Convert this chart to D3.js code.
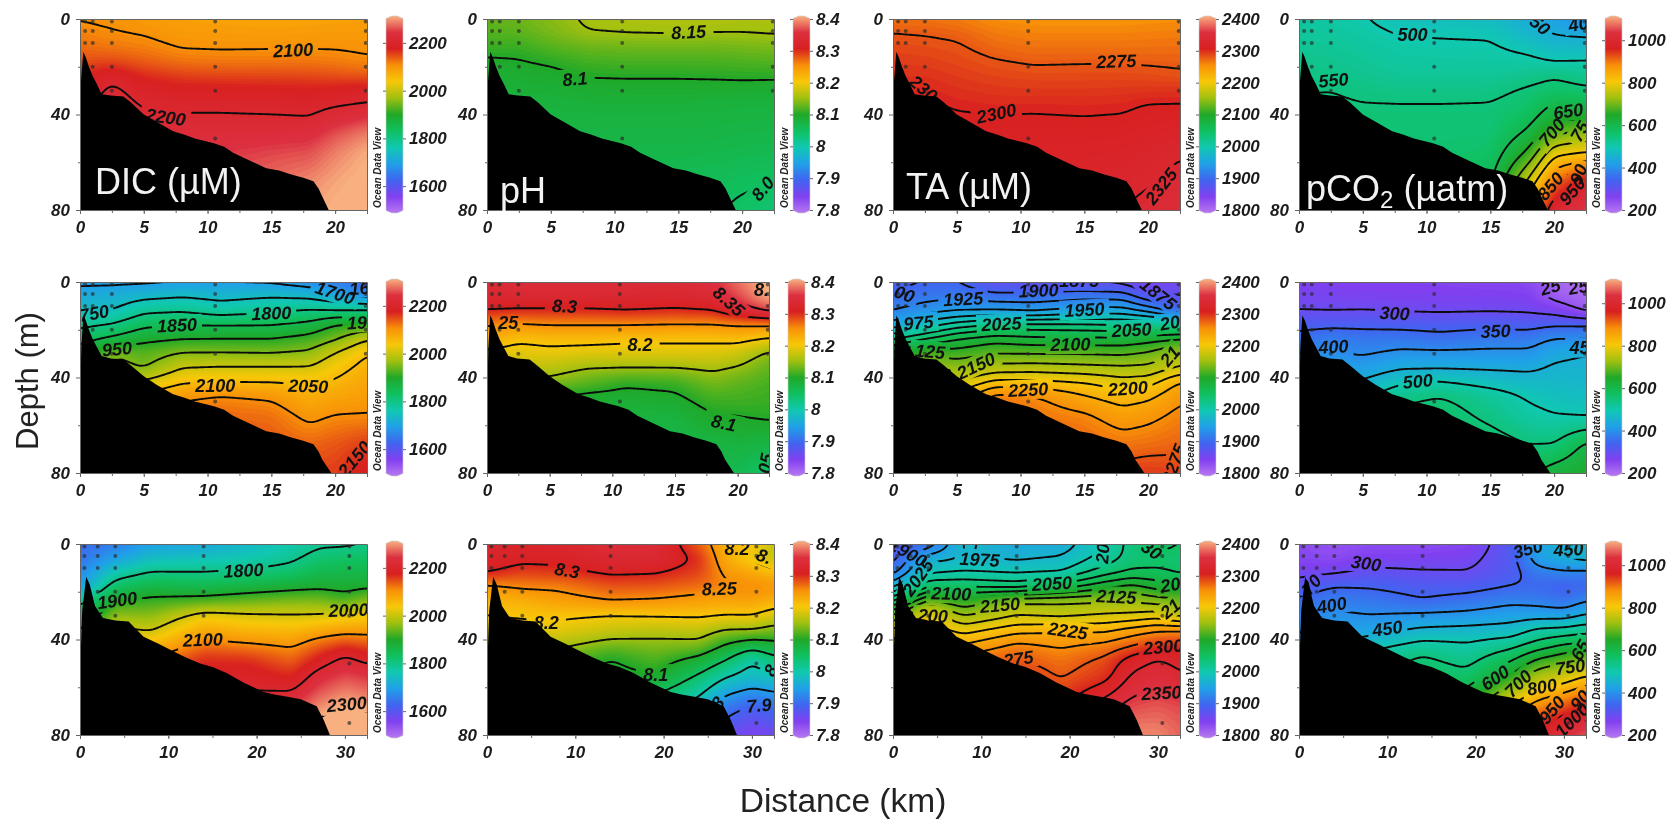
<!DOCTYPE html>
<html lang="en">
<head>
	<meta charset="utf-8">
	<title>Carbonate sections</title>
	<style type="text/css">
		html, body { margin: 0; background: #fff; }
		svg { display: block; filter: blur(0.6px); }
		text { font-family: "Liberation Sans", Arial, sans-serif; }
		.tick text, .clabel, .odv { font-weight: bold; font-style: italic; }
		.tick text { font-size: 17px; fill: #1c1c1c; }
		.tick line, .domain { stroke: #666; }
	</style>
</head>
<body>
	<svg id="chart" width="1668" height="819"></svg>

	<script src="https://cdnjs.cloudflare.com/ajax/libs/d3/7.8.5/d3.min.js"></script>
	<script type="text/javascript">
		// grid nodes, every grid below is a list of depth profiles, one per distance
		var depths = [0, 6, 12, 18, 24, 30, 36, 42, 48, 56, 68, 80];
		var kmShort = [0, 2.5, 5, 8, 11, 15, 18, 20, 22.5];
		var kmLong = [0, 4, 8, 14, 19, 24, 27, 30, 32.5];

		// colour bar stops, bottom to top
		var palette = ["#b878f0", "#8040f0", "#4064f0", "#20a0e8", "#10c8b0", "#10c060", "#20a828",
			"#a0c010", "#f8c808", "#f89008", "#d82020", "#dc3040", "#f8b080"];

		var dicRange = [1500, 2300], phRange = [7.8, 8.4], taRange = [1800, 2400], co2Range = [200, 1100];
		var dicTicks = [1600, 1800, 2000, 2200];
		var phTicks = [7.8, 7.9, 8, 8.1, 8.2, 8.3, 8.4];
		var taTicks = [1800, 1900, 2000, 2100, 2200, 2300, 2400];
		var co2Ticks = [200, 400, 600, 800, 1000];
		var shortTicks = [0, 5, 10, 15, 20];
		var longTicks = [0, 10, 20, 30];
		var depthTicks = [0, 40, 80];

		// bottom profiles: distance, depth
		var shelfTop = [[0, 80], [0, 40], [0.08, 26], [0.26, 13.7], [0.45, 16], [0.7, 20], [1, 24], [1.3, 27], [1.7, 31.5], [2.4, 32], [3.4, 32.5], [4, 35], [5, 40], [6, 43], [7.3, 47], [8.2, 48.5], [9, 50], [10.5, 52], [11.3, 53.5], [12, 56], [13, 58.5], [14.6, 62.5], [15.6, 63.5], [16.5, 65], [17.5, 66.5], [18.3, 68], [18.7, 71], [19, 74.4], [19.5, 80]];
		var shelfMid = [[0, 80], [0, 60], [0.1, 28], [0.26, 14], [0.45, 16], [0.7, 20], [1, 24], [1.3, 27], [1.7, 31], [2.4, 32], [3.4, 32.5], [4, 35], [5, 39.5], [6, 43], [7.3, 47], [8.2, 48.5], [9, 50], [10.5, 52], [11.3, 53.5], [12, 56], [13, 58.5], [14.6, 62.5], [15.6, 63.5], [16.5, 65], [17.5, 66.5], [18.3, 68], [18.7, 71], [19, 74.4], [19.7, 80]];
		var shelfLow = [[0, 80], [0, 55], [0.25, 28], [0.7, 13.7], [1.1, 17], [1.7, 26], [2.6, 31], [4, 32], [5.5, 32.5], [7.2, 38.8], [9, 42], [10.6, 45], [12, 47.5], [13.6, 50], [15, 51.5], [16.6, 54], [18.5, 58], [20.8, 62], [22, 63], [23.5, 64], [25, 65], [26.8, 68], [27.6, 73.7], [28.3, 80]];

		// sample stations: distance, depth
		var stationsShort = [[0.4, 1], [1, 1], [2.5, 1], [10.6, 1], [0.4, 5], [1, 5], [2.5, 5], [10.6, 5], [0.4, 10], [1, 10], [2.5, 10], [10.6, 10], [1, 20], [2.5, 20], [10.6, 20], [2.5, 30], [10.6, 30], [10.6, 50], [22.4, 1], [22.4, 5], [22.4, 10], [22.4, 20], [22.4, 30]];
		var stationsLong = [[0.5, 1], [2, 1], [4, 1], [14, 1], [30.5, 1], [0.5, 5], [2, 5], [4, 5], [14, 5], [30.5, 5], [0.5, 10], [2, 10], [4, 10], [14, 10], [30.5, 10], [2, 20], [4, 20], [14, 20], [30.5, 20], [4, 30], [14, 30], [30.5, 30], [30.5, 50], [30.5, 75]];

		// top row
		var dicA = [
			[2098, 2108, 2122, 2140, 2160, 2175, 2190, 2205, 2225, 2240, 2260, 2270],
			[2095, 2102, 2115, 2145, 2190, 2210, 2215, 2225, 2235, 2245, 2260, 2270],
			[2088, 2098, 2110, 2132, 2162, 2185, 2198, 2205, 2220, 2235, 2255, 2270],
			[2080, 2088, 2098, 2118, 2150, 2175, 2194, 2205, 2218, 2235, 2255, 2270],
			[2078, 2086, 2097, 2115, 2146, 2175, 2194, 2205, 2220, 2235, 2255, 2270],
			[2075, 2085, 2098, 2115, 2146, 2172, 2192, 2204, 2222, 2245, 2265, 2280],
			[2077, 2086, 2098, 2115, 2145, 2170, 2190, 2202, 2225, 2250, 2280, 2295],
			[2078, 2087, 2098, 2112, 2140, 2175, 2197, 2220, 2250, 2275, 2295, 2305],
			[2080, 2088, 2095, 2105, 2135, 2185, 2202, 2240, 2275, 2300, 2310, 2315]];
		var dicALevels = [2100, 2200];
		var dicALabels = [["2100", 16.7, 13, -3], ["2200", 6.7, 41, 8]];

		var phA = [
			[8.125, 8.12, 8.11, 8.095, 8.085, 8.08, 8.08, 8.078, 8.075, 8.07, 8.06, 8.055],
			[8.13, 8.122, 8.108, 8.098, 8.09, 8.085, 8.08, 8.078, 8.075, 8.07, 8.06, 8.055],
			[8.14, 8.135, 8.12, 8.103, 8.093, 8.085, 8.08, 8.078, 8.075, 8.07, 8.06, 8.055],
			[8.155, 8.149, 8.128, 8.113, 8.101, 8.09, 8.083, 8.078, 8.075, 8.07, 8.06, 8.055],
			[8.158, 8.151, 8.13, 8.115, 8.102, 8.09, 8.083, 8.078, 8.075, 8.07, 8.06, 8.055],
			[8.16, 8.152, 8.13, 8.115, 8.102, 8.09, 8.083, 8.078, 8.075, 8.07, 8.06, 8.055],
			[8.16, 8.15, 8.13, 8.115, 8.103, 8.09, 8.081, 8.078, 8.074, 8.068, 8.058, 8.052],
			[8.158, 8.15, 8.133, 8.117, 8.104, 8.09, 8.08, 8.077, 8.072, 8.066, 8.054, 8.045],
			[8.158, 8.152, 8.135, 8.12, 8.103, 8.09, 8.08, 8.076, 8.07, 8.064, 8.05, 8.04]];
		var phALevels = [8.05, 8.1, 8.15];
		var phALabels = [["8.15", 15.8, 5.4, -3], ["8.1", 6.9, 25, -5], ["8.0", 21.6, 71, -50]];

		var taA = [
			[2262, 2276, 2282, 2288, 2292, 2296, 2300, 2304, 2308, 2312, 2316, 2320],
			[2262, 2274, 2281, 2286, 2292, 2298, 2303, 2306, 2310, 2312, 2316, 2320],
			[2258, 2271, 2278, 2283, 2288, 2293, 2298, 2303, 2306, 2310, 2316, 2320],
			[2250, 2260, 2268, 2277, 2284, 2290, 2296, 2302, 2305, 2310, 2316, 2320],
			[2248, 2256, 2264, 2273, 2282, 2289, 2297, 2302, 2306, 2311, 2316, 2320],
			[2248, 2256, 2264, 2274, 2282, 2289, 2296, 2301, 2306, 2311, 2317, 2322],
			[2248, 2256, 2264, 2274, 2282, 2290, 2297, 2302, 2307, 2313, 2319, 2325],
			[2249, 2257, 2264, 2273, 2281, 2291, 2301, 2306, 2311, 2317, 2323, 2331],
			[2250, 2258, 2265, 2272, 2278, 2292, 2301, 2308, 2315, 2323, 2331, 2338]];
		var taALevels = [2275, 2300, 2325];
		var taALabels = [["2275", 17.5, 17.6, -2], ["2300", 8.1, 39.5, -12], ["230", 2.4, 29, 40], ["2325", 21, 70, -52]];

		var co2A = [
			[515, 522, 528, 535, 542, 548, 555, 560, 562, 565, 570, 575],
			[510, 518, 525, 532, 540, 550, 556, 560, 562, 565, 570, 575],
			[502, 510, 518, 525, 532, 542, 552, 558, 562, 565, 570, 575],
			[485, 498, 508, 515, 525, 538, 552, 556, 560, 565, 570, 575],
			[480, 497, 506, 514, 524, 538, 552, 556, 558, 562, 570, 575],
			[475, 495, 505, 514, 524, 540, 553, 555, 558, 570, 590, 610],
			[445, 462, 490, 510, 535, 557, 565, 585, 610, 660, 760, 850],
			[430, 448, 470, 500, 548, 567, 605, 640, 690, 785, 900, 990],
			[395, 443, 470, 504, 532, 558, 605, 650, 720, 800, 975, 1040]];
		var co2ALevels = [400, 450, 500, 550, 600, 650, 700, 750, 800, 850, 900, 950];
		var co2ALabels = [["500", 8.9, 6.4, 0], ["550", 2.7, 25.5, -5], ["650", 21.1, 38.5, -8], ["700", 19.8, 47.5, -50], ["75", 22, 47, -60], ["850", 19.7, 70, -50], ["90", 21.9, 65, -70], ["950", 21.4, 72, -50], ["50", 18.9, 2.5, 40], ["40", 21.9, 2, -10]];

		// middle row
		var dicB = [
			[1690, 1720, 1745, 1790, 1830, 1880, 1920, 1960, 2000, 2040, 2080, 2120],
			[1690, 1725, 1748, 1805, 1860, 1950, 1970, 2000, 2040, 2070, 2100, 2130],
			[1690, 1738, 1790, 1840, 1890, 1930, 1945, 2010, 2060, 2090, 2120, 2140],
			[1695, 1748, 1795, 1850, 1900, 1955, 2000, 2045, 2095, 2115, 2130, 2150],
			[1695, 1738, 1775, 1850, 1902, 1955, 2005, 2050, 2105, 2125, 2135, 2150],
			[1690, 1748, 1790, 1850, 1902, 1952, 2005, 2050, 2095, 2120, 2135, 2150],
			[1675, 1740, 1805, 1865, 1920, 1960, 2005, 2045, 2065, 2090, 2125, 2150],
			[1660, 1715, 1800, 1905, 1945, 2005, 2035, 2055, 2075, 2102, 2135, 2150],
			[1630, 1685, 1805, 1915, 2000, 2050, 2065, 2075, 2085, 2102, 2152, 2175]];
		var dicBLevels = [1700, 1750, 1800, 1850, 1900, 1950, 2000, 2050, 2100, 2150];
		var dicBLabels = [["1700", 20, 4.5, 18], ["16", 21.9, 2.5, -5], ["750", 1.1, 13, -10], ["1800", 15, 13, -2], ["1850", 7.6, 18, -3], ["19", 21.7, 17, -3], ["950", 2.9, 28, -5], ["2100", 10.6, 43.5, 0], ["2050", 17.9, 43.5, 2], ["2150", 21.5, 74, -50]];

		var phB = [
			[8.33, 8.325, 8.30, 8.25, 8.225, 8.19, 8.16, 8.13, 8.10, 8.08, 8.07, 8.06],
			[8.335, 8.33, 8.295, 8.245, 8.205, 8.185, 8.17, 8.14, 8.10, 8.08, 8.07, 8.06],
			[8.335, 8.33, 8.295, 8.25, 8.21, 8.19, 8.165, 8.14, 8.10, 8.08, 8.07, 8.06],
			[8.335, 8.33, 8.295, 8.25, 8.21, 8.185, 8.15, 8.125, 8.09, 8.08, 8.07, 8.06],
			[8.335, 8.33, 8.30, 8.25, 8.205, 8.185, 8.15, 8.105, 8.09, 8.08, 8.07, 8.06],
			[8.335, 8.325, 8.295, 8.247, 8.205, 8.185, 8.15, 8.11, 8.095, 8.08, 8.07, 8.065],
			[8.345, 8.335, 8.30, 8.247, 8.205, 8.185, 8.155, 8.135, 8.115, 8.098, 8.075, 8.065],
			[8.375, 8.36, 8.33, 8.25, 8.21, 8.175, 8.146, 8.125, 8.115, 8.10, 8.08, 8.065],
			[8.41, 8.40, 8.36, 8.25, 8.195, 8.14, 8.125, 8.115, 8.11, 8.105, 8.075, 8.04]];
		var phBLevels = [8.05, 8.1, 8.15, 8.2, 8.25, 8.3, 8.35, 8.4];
		var phBLabels = [["8.3", 6.2, 10, 3], ["8.35", 19.3, 8, 42], ["8.", 21.9, 3, 0], ["25", 1.7, 17, 0], ["8.2", 12.2, 26, 0], ["8.1", 18.9, 59, 12], ["05", 22.2, 76, -80]];

		var taB = [
			[1890, 1908, 1923, 1960, 2025, 2080, 2120, 2160, 2190, 2220, 2260, 2280],
			[1900, 1915, 1939, 1987, 2050, 2125, 2150, 2175, 2200, 2230, 2260, 2280],
			[1899, 1922, 1947, 2012, 2078, 2112, 2145, 2175, 2205, 2240, 2270, 2285],
			[1870, 1910, 1950, 2030, 2092, 2125, 2160, 2207, 2262, 2270, 2280, 2290],
			[1870, 1912, 1942, 2035, 2083, 2125, 2162, 2207, 2255, 2262, 2275, 2285],
			[1875, 1915, 1960, 2030, 2083, 2125, 2157, 2200, 2228, 2255, 2270, 2285],
			[1865, 1915, 1960, 2025, 2083, 2122, 2155, 2185, 2212, 2237, 2262, 2285],
			[1850, 1882, 1942, 2025, 2092, 2130, 2156, 2190, 2220, 2243, 2265, 2290],
			[1860, 1875, 1900, 2025, 2103, 2155, 2177, 2228, 2245, 2257, 2270, 2285]];
		var taBLevels = [1875, 1900, 1925, 1950, 1975, 2000, 2025, 2050, 2075, 2100, 2125, 2150, 2175, 2200, 2225, 2250, 2275];
		var taBLabels = [["00", 0.9, 5, 20], ["1925", 5.5, 7, -3], ["1900", 11.4, 3.5, -2], ["1875", 14.6, -0.5, 0], ["1875", 20.8, 5, 38], ["1950", 15, 11.5, -3], ["975", 2, 17, -5], ["2025", 8.5, 17.5, -3], ["2050", 18.7, 20, -3], ["20", 21.7, 17, -10], ["2100", 13.9, 26, -1], ["125", 2.9, 29, 5], ["2150", 6.5, 35, -25], ["21", 21.7, 31, -50], ["2250", 10.6, 45, -3], ["2200", 18.4, 44.5, -4], ["2275", 22, 76, -70]];

		var co2B = [
			[275, 285, 300, 335, 370, 400, 430, 450, 465, 480, 500, 520],
			[275, 285, 297, 340, 385, 405, 430, 450, 465, 480, 500, 520],
			[270, 280, 300, 340, 375, 395, 425, 455, 490, 510, 530, 550],
			[270, 280, 295, 338, 375, 412, 445, 492, 540, 560, 570, 580],
			[270, 278, 293, 335, 365, 412, 445, 505, 552, 570, 580, 590],
			[265, 278, 295, 340, 378, 412, 444, 482, 525, 540, 570, 590],
			[263, 275, 293, 335, 378, 412, 442, 470, 495, 512, 550, 590],
			[225, 235, 282, 345, 405, 440, 456, 470, 483, 502, 550, 625],
			[210, 220, 238, 350, 402, 452, 458, 465, 478, 495, 610, 640]];
		var co2BLevels = [250, 300, 350, 400, 450, 500, 550, 600];
		var co2BLabels = [["25", 19.7, 2, -15], ["25", 21.9, 2, -10], ["300", 7.5, 13, 3], ["350", 15.4, 20.5, -2], ["400", 2.7, 27, -3], ["45", 22, 27.5, 0], ["500", 9.3, 41.5, -5]];

		// bottom row
		var dicC = [
			[1640, 1650, 1670, 1700, 1780, 1840, 1900, 1960, 2010, 2060, 2120, 2170],
			[1660, 1700, 1770, 1830, 1905, 1960, 2010, 2050, 2100, 2140, 2180, 2210],
			[1700, 1745, 1804, 1865, 1915, 1955, 1995, 2050, 2100, 2140, 2180, 2210],
			[1710, 1755, 1802, 1855, 1925, 2025, 2070, 2115, 2160, 2180, 2210, 2230],
			[1735, 1765, 1810, 1870, 1940, 2010, 2055, 2104, 2155, 2185, 2220, 2250],
			[1770, 1790, 1825, 1885, 1950, 2005, 2050, 2092, 2125, 2165, 2240, 2280],
			[1790, 1820, 1855, 1890, 1950, 2005, 2070, 2125, 2170, 2225, 2280, 2330],
			[1790, 1830, 1860, 1885, 1925, 2020, 2080, 2150, 2212, 2250, 2305, 2340],
			[1800, 1830, 1860, 1890, 1960, 2030, 2082, 2135, 2185, 2240, 2292, 2330]];
		var dicCLevels = [1800, 1900, 2000, 2100, 2200, 2300];
		var dicCLabels = [["1800", 18.5, 11, -3], ["1900", 4.2, 23.5, -8], ["2000", 30.4, 27.6, -2], ["2100", 13.9, 40, -2], ["2300", 30.2, 67, -5]];

		var phC = [
			[8.32, 8.315, 8.305, 8.24, 8.215, 8.2, 8.18, 8.16, 8.13, 8.1, 8.07, 8.05],
			[8.315, 8.31, 8.285, 8.255, 8.22, 8.205, 8.185, 8.16, 8.13, 8.1, 8.07, 8.05],
			[8.32, 8.31, 8.29, 8.255, 8.235, 8.205, 8.19, 8.16, 8.13, 8.1, 8.07, 8.05],
			[8.335, 8.33, 8.305, 8.275, 8.25, 8.197, 8.175, 8.135, 8.098, 8.09, 8.06, 8.04],
			[8.335, 8.33, 8.302, 8.275, 8.245, 8.202, 8.165, 8.14, 8.12, 8.095, 8.02, 8.0],
			[8.27, 8.295, 8.285, 8.265, 8.235, 8.205, 8.17, 8.14, 8.09, 8.04, 7.98, 7.93],
			[8.22, 8.225, 8.245, 8.255, 8.23, 8.2, 8.148, 8.10, 8.055, 8.0, 7.92, 7.87],
			[8.205, 8.19, 8.23, 8.253, 8.235, 8.2, 8.15, 8.075, 8.005, 7.98, 7.895, 7.85],
			[8.17, 8.17, 8.21, 8.25, 8.22, 8.18, 8.135, 8.09, 8.04, 7.99, 7.91, 7.86]];
		var phCLevels = [7.9, 7.95, 8, 8.05, 8.1, 8.15, 8.2, 8.25, 8.3];
		var phCLabels = [["8.3", 9.07, 11, 10], ["8.25", 26.3, 18.6, -2], ["8.2", 28.3, 2, 0], ["8.", 31.4, 5, 20], ["8.2", 6.7, 33, 0], ["8.1", 19.1, 54.5, 0], ["8", 32.1, 53, -60], ["7.9", 30.8, 67.5, -5], ["8", 26.1, 66.5, -50]];

		var taC = [
			[1880, 1890, 1915, 1970, 2050, 2130, 2180, 2210, 2235, 2260, 2290, 2310],
			[1905, 1968, 1995, 2050, 2135, 2195, 2215, 2240, 2260, 2280, 2300, 2320],
			[1980, 1975, 2003, 2050, 2105, 2150, 2190, 2225, 2260, 2290, 2310, 2330],
			[1960, 1970, 1998, 2040, 2150, 2175, 2215, 2255, 2276, 2295, 2310, 2330],
			[1960, 1978, 2000, 2065, 2150, 2168, 2222, 2245, 2262, 2274, 2295, 2320],
			[2000, 2010, 2040, 2095, 2150, 2178, 2220, 2255, 2280, 2292, 2340, 2370],
			[2035, 2035, 2055, 2110, 2150, 2180, 2235, 2270, 2310, 2330, 2360, 2385],
			[2060, 2040, 2055, 2090, 2140, 2190, 2245, 2292, 2325, 2345, 2365, 2385],
			[2050, 2040, 2045, 2085, 2135, 2165, 2248, 2295, 2315, 2330, 2360, 2370]];
		var taCLevels = [1900, 1925, 1950, 1975, 2000, 2025, 2050, 2075, 2100, 2125, 2150, 2175, 2200, 2225, 2250, 2275, 2300, 2325, 2350];
		var taCLabels = [["1975", 9.8, 6.4, 3], ["20", 23.7, 4, -85], ["2025", 2.8, 14, -55], ["2100", 6.6, 20.7, 2], ["2050", 18, 16.5, -3], ["2125", 25.3, 22, 3], ["2150", 12.1, 25.5, -5], ["20", 31.4, 17, -10], ["21", 31.4, 27, -40], ["200", 4.5, 30, 3], ["2225", 19.8, 36.3, 8], ["275", 14.2, 48, -8], ["2300", 30.6, 43, -5], ["2350", 30.4, 62.3, -3], ["30", 29.3, 2.5, 35], ["1900", 1.7, 3.5, 30]];

		var co2C = [
			[260, 265, 285, 325, 360, 385, 395, 410, 430, 450, 480, 500],
			[250, 258, 295, 352, 385, 410, 425, 440, 460, 480, 500, 520],
			[255, 280, 312, 348, 375, 402, 430, 480, 520, 550, 570, 590],
			[255, 280, 305, 335, 352, 412, 458, 515, 560, 575, 600, 620],
			[265, 285, 302, 335, 370, 415, 465, 505, 530, 570, 650, 700],
			[330, 330, 330, 352, 390, 430, 470, 530, 590, 660, 810, 900],
			[430, 430, 375, 355, 385, 430, 510, 565, 650, 740, 880, 980],
			[450, 455, 390, 340, 370, 430, 515, 600, 680, 770, 920, 1020],
			[460, 470, 385, 350, 400, 455, 530, 610, 700, 810, 960, 1050]];
		var co2CLevels = [300, 350, 400, 450, 500, 550, 600, 650, 700, 750, 800, 850, 900, 950, 1000];
		var co2CLabels = [["300", 7.6, 8, 8], ["400", 3.7, 25.5, -10], ["450", 10, 35.3, -8], ["600", 22.2, 56, -35], ["700", 24.8, 58.4, -45], ["800", 27.5, 59.8, -10], ["750", 30.7, 51.4, -8], ["65", 31.8, 44.4, -60], ["90", 31.8, 65.4, -50], ["950", 28.6, 69.5, -50], ["1000", 30.9, 73.7, -45], ["450", 30.5, 2.2, -3], ["350", 25.9, 2, -15], ["70", 1.4, 17, -50]];

		// page layout
		var colX = [80, 487, 893, 1299];
		var rowY = [19, 282, 544];
		var plotW = 287, plotH = 191;
		var cell = 2, pad = 4;

		var rows = [
			{ km: kmShort, xMax: 22.5, ticks: shortTicks, minor: d3.range(0, 22.6, 2.5), shelf: shelfTop, stations: stationsShort },
			{ km: kmShort, xMax: 22.5, ticks: shortTicks, minor: d3.range(0, 22.6, 2.5), shelf: shelfMid, stations: stationsShort },
			{ km: kmLong, xMax: 32.5, ticks: longTicks, minor: d3.range(0, 32.6, 5), shelf: shelfLow, stations: stationsLong }
		];
		var columns = [
			{ range: dicRange, ticks: dicTicks, grids: [dicA, dicB, dicC], levels: [dicALevels, dicBLevels, dicCLevels], labels: [dicALabels, dicBLabels, dicCLabels] },
			{ range: phRange, ticks: phTicks, grids: [phA, phB, phC], levels: [phALevels, phBLevels, phCLevels], labels: [phALabels, phBLabels, phCLabels] },
			{ range: taRange, ticks: taTicks, grids: [taA, taB, taC], levels: [taALevels, taBLevels, taCLevels], labels: [taALabels, taBLabels, taCLabels] },
			{ range: co2Range, ticks: co2Ticks, grids: [co2A, co2B, co2C], levels: [co2ALevels, co2BLevels, co2CLevels], labels: [co2ALabels, co2BLabels, co2CLabels] }
		];

		var svg = d3.select("#chart");
		var defs = svg.append("defs");

		function colorFor(range) {
			return d3.scaleLinear()
				.domain(palette.map(function (c, i) { return range[0] + i * (range[1] - range[0]) / (palette.length - 1); }))
				.range(palette)
				.clamp(true);
		}

		// one gradient is enough for all the colour bars
		var gradient = defs.append("linearGradient").attr("id", "bar")
			.attr("x1", 0).attr("y1", 1).attr("x2", 0).attr("y2", 0);
		palette.forEach(function (c, i) {
			gradient.append("stop").attr("offset", i / (palette.length - 1)).attr("stop-color", c);
		});

		function sample(grid, km, x, d) {
			var i = Math.max(0, Math.min(km.length - 2, d3.bisectRight(km, x) - 1));
			var j = Math.max(0, Math.min(depths.length - 2, d3.bisectRight(depths, d) - 1));
			var u = Math.max(0, Math.min(1, (x - km[i]) / (km[i + 1] - km[i])));
			var v = Math.max(0, Math.min(1, (d - depths[j]) / (depths[j + 1] - depths[j])));
			return (1 - u) * ((1 - v) * grid[i][j] + v * grid[i][j + 1]) + u * ((1 - v) * grid[i + 1][j] + v * grid[i + 1][j + 1]);
		}

		function drawPanel(row, col, r, c) {
			var id = "p" + r + c;
			var left = colX[c], top = rowY[r];
			var w = (r == 1 && c == 1) ? 282 : plotW;
			var x = d3.scaleLinear().domain([0, row.xMax]).range([0, w]);
			var y = d3.scaleLinear().domain([0, 80]).range([0, plotH]);
			var color = colorFor(col.range);
			var g = svg.append("g").attr("transform", "translate(" + left + "," + top + ")");

			// fine field for d3.contours, a little wider than the plot so outlines stay outside the clip
			var nx = Math.ceil(w / cell) + 2 * pad, ny = Math.ceil(plotH / cell) + 2 * pad;
			var values = new Float64Array(nx * ny);
			for (var j = 0; j < ny; j++) {
				for (var i = 0; i < nx; i++) {
					values[j * nx + i] = sample(col.grids[r], row.km,
						x.invert((i + 0.5 - pad) * cell), y.invert((j + 0.5 - pad) * cell));
				}
			}
			d3.blur2({ data: values, width: nx, height: ny }, 2);

			var path = d3.geoPath(d3.geoTransform({
				point: function (px, py) { this.stream.point((px - pad) * cell, (py - pad) * cell); }
			}));
			var contours = d3.contours().size([nx, ny]);

			defs.append("clipPath").attr("id", id + "c").append("rect").attr("width", w).attr("height", plotH);

			var plot = g.append("g").attr("clip-path", "url(#" + id + "c)");
			var step = (col.range[1] - col.range[0]) / 150;
			var thresholds = d3.range(-15, 166).map(function (k) { return col.range[0] + k * step; });

			plot.append("rect").attr("width", w).attr("height", plotH).attr("fill", color(col.range[0]));
			plot.append("g").selectAll("path")
				.data(contours.thresholds(thresholds)(values))
				.join("path")
				.attr("d", path)
				.attr("fill", function (d) { return color(d.value + step / 2); });

			// gaps in the isolines behind the labels
			var mask = defs.append("mask").attr("id", id + "m").attr("maskUnits", "userSpaceOnUse")
				.attr("x", 0).attr("y", 0).attr("width", w).attr("height", plotH);
			mask.append("rect").attr("width", w).attr("height", plotH).attr("fill", "#fff");
			col.labels[r].forEach(function (l) {
				var bw = l[0].length * 10.5 + 8;
				mask.append("rect")
					.attr("x", -bw / 2).attr("y", -10).attr("width", bw).attr("height", 20).attr("fill", "#000")
					.attr("transform", "translate(" + x(l[1]) + "," + y(l[2]) + ") rotate(" + l[3] + ")");
			});

			plot.append("g").attr("mask", "url(#" + id + "m)").selectAll("path")
				.data(col.levels[r])
				.join("path")
				.attr("d", function (level) { return path(contours.contour(values, level)); })
				.attr("fill", "none")
				.attr("stroke", "#0c0c0c")
				.attr("stroke-width", 1.9);

			plot.append("g").selectAll("circle")
				.data(row.stations)
				.join("circle")
				.attr("cx", function (d) { return x(d[0]); })
				.attr("cy", function (d) { return y(d[1]); })
				.attr("r", 2)
				.attr("fill", "#2a2a2a")
				.attr("fill-opacity", 0.65);

			plot.append("g").selectAll("text")
				.data(col.labels[r])
				.join("text")
				.attr("class", "clabel")
				.attr("text-anchor", "middle")
				.attr("dy", "0.36em")
				.attr("font-size", 18)
				.attr("fill", "#111")
				.attr("transform", function (d) { return "translate(" + x(d[1]) + "," + y(d[2]) + ") rotate(" + d[3] + ")"; })
				.text(function (d) { return d[0]; });

			// sea floor
			plot.append("path")
				.datum(row.shelf)
				.attr("d", d3.line().x(function (d) { return x(d[0]); }).y(function (d) { return y(d[1]); }))
				.attr("fill", "#000");

			// axes
			g.append("g").attr("transform", "translate(0," + plotH + ")")
				.call(d3.axisBottom(x).tickValues(row.minor).tickSize(3).tickFormat(""));
			g.append("g").attr("transform", "translate(0," + plotH + ")")
				.call(d3.axisBottom(x).tickValues(row.ticks).tickSize(4).tickPadding(7).tickFormat(d3.format("d")));
			g.append("g").call(d3.axisTop(x).tickValues([]).tickSize(0));
			g.append("g").attr("transform", "translate(" + w + ",0)").call(d3.axisRight(y).tickValues([]).tickSize(0));
			g.append("g").call(d3.axisLeft(y).tickValues([20, 60]).tickSize(2).tickFormat(""));
			g.append("g").call(d3.axisLeft(y).tickValues(depthTicks).tickSize(4).tickPadding(6));

			g.append("text")
				.attr("class", "odv")
				.attr("transform", "translate(" + (w + 14) + ",189) rotate(-90)")
				.attr("font-size", 10)
				.attr("fill", "#222")
				.text("Ocean Data View");

			// colour bar
			var barX = w + 19, barW = 17;
			var bar = g.append("g").attr("transform", "translate(" + barX + ",0)");
			var barY = d3.scaleLinear().domain(col.range).range([plotH, 0]);
			bar.append("path")
				.attr("d", "M0,-0.5L" + barW / 3 + ",-3L" + barW * 2 / 3 + ",-3L" + barW + ",-0.5V" + (plotH + 0.5) +
					"L" + barW * 2 / 3 + "," + (plotH + 3) + "L" + barW / 3 + "," + (plotH + 3) + "L0," + (plotH + 0.5) + "Z")
				.attr("fill", "url(#bar)")
				.attr("stroke", "#ccc")
				.attr("stroke-width", 0.6);
			bar.append("g").attr("transform", "translate(" + barW + ",0)")
				.call(d3.axisRight(barY).tickValues(col.ticks).tickSize(3).tickPadding(3).tickFormat(String))
				.call(function (s) { s.select(".domain").remove(); });
			bar.append("g")
				.call(d3.axisLeft(barY).tickValues(col.ticks).tickSize(3).tickFormat(""))
				.call(function (s) { s.select(".domain").remove(); });
		}

		rows.forEach(function (row, r) {
			columns.forEach(function (col, c) { drawPanel(row, col, r, c); });
		});

		// titles on the sea floor of the top row
		function title(px, py) {
			return svg.append("text").attr("x", px).attr("y", py).attr("font-size", 36).attr("fill", "#f2f2f2");
		}
		title(95, 194).text("DIC (µM)");
		title(500, 203).text("pH");
		title(906, 199).text("TA (µM)");
		var co2Title = title(1306, 201);
		co2Title.append("tspan").text("pCO");
		co2Title.append("tspan").attr("font-size", 24).attr("dy", 7).text("2");
		co2Title.append("tspan").attr("dy", -7).text(" (µatm)");

		svg.append("text")
			.attr("transform", "translate(38,381) rotate(-90)")
			.attr("text-anchor", "middle")
			.attr("font-size", 31)
			.attr("fill", "#222")
			.text("Depth (m)");
		svg.append("text")
			.attr("x", 843).attr("y", 812)
			.attr("text-anchor", "middle")
			.attr("font-size", 33.5)
			.attr("fill", "#222")
			.text("Distance (km)");
	</script>
</body>
</html>
